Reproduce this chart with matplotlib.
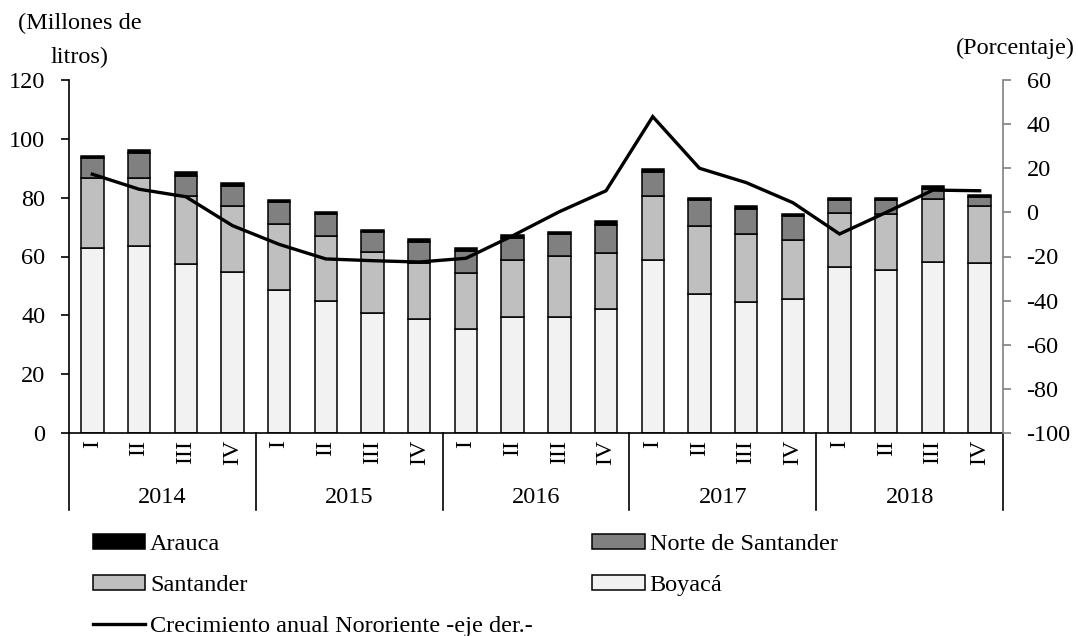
import numpy as np
import matplotlib.pyplot as plt
from matplotlib.lines import Line2D

plt.rcParams['font.family'] = ['Liberation Serif', 'DejaVu Serif']
plt.rcParams['font.size'] = 17.5
plt.rcParams['axes.unicode_minus'] = False

# Datos (millones de litros) por trimestre 2014-2018
years = ['2014', '2015', '2016', '2017', '2018']
quarters = ['I', 'II', 'III', 'IV'] * 5
boyaca = [63.0, 63.6, 57.4, 54.8, 48.7, 44.8, 40.7, 38.6, 35.3, 39.3,
          39.3, 42.1, 58.8, 47.3, 44.5, 45.4, 56.3, 55.5, 58.2, 57.7]
santander = [23.8, 23.2, 23.3, 22.5, 22.4, 22.2, 20.9, 19.1, 19.0, 19.5,
             21.0, 19.0, 21.8, 23.2, 23.3, 20.3, 18.5, 19.0, 21.2, 19.6]
norte = [6.6, 8.5, 6.7, 6.7, 7.3, 7.4, 6.7, 7.1, 7.7, 7.4,
         7.2, 9.7, 8.0, 8.6, 8.5, 8.0, 4.3, 4.6, 3.5, 3.0]
arauca = [0.9, 0.9, 1.4, 0.9, 0.9, 0.8, 0.8, 1.0, 1.0, 1.1,
          0.9, 1.1, 1.0, 0.9, 1.0, 0.9, 0.9, 0.9, 1.2, 0.7]
crecimiento = [17.3, 10.5, 7.1, -6.0, -14.5, -21.1, -21.9, -22.5, -20.8, -10.6,
               0.3, 9.8, 43.4, 20.0, 13.5, 4.4, -9.8, 0.0, 10.1, 9.8]

x = np.arange(len(boyaca))
b = np.array(boyaca)
s = np.array(santander)
n = np.array(norte)
a = np.array(arauca)

fig = plt.figure(figsize=(10.78, 6.36), dpi=100)
ax = fig.add_axes([69 / 1078, 1 - 433 / 636, (1003 - 69) / 1078, (433 - 80) / 636])

w = 0.48
ec = 'black'
lw = 1.1
ax.bar(x, b, w, color='#f2f2f2', edgecolor=ec, linewidth=lw, label='Boyacá')
ax.bar(x, s, w, bottom=b, color='#bfbfbf', edgecolor=ec, linewidth=lw, label='Santander')
ax.bar(x, n, w, bottom=b + s, color='#808080', edgecolor=ec, linewidth=lw, label='Norte de Santander')
ax.bar(x, a, w, bottom=b + s + n, color='black', edgecolor=ec, linewidth=lw, label='Arauca')

ax.set_xlim(-0.5, len(x) - 0.5)
ax.set_ylim(0, 120)
ax.set_yticks(range(0, 121, 20))
ax.tick_params(axis='y', direction='out', length=6, width=1.2, pad=11)
ax.set_xticks(x)
ax.set_xticklabels(quarters, rotation=90)
ax.tick_params(axis='x', length=0, pad=5)
ax.spines['top'].set_visible(False)
ax.spines['right'].set_visible(False)
ax.spines['left'].set_linewidth(1.2)
ax.spines['bottom'].set_linewidth(1.2)

# separadores de años y etiquetas
for k in range(len(years) + 1):
    ax.plot([k * 4 - 0.5] * 2, [0, -0.218], color='black', lw=1.2,
            transform=ax.get_xaxis_transform(), clip_on=False)
for k, yr in enumerate(years):
    ax.text(k * 4 + 1.5, -0.183, yr, transform=ax.get_xaxis_transform(),
            ha='center', va='center')

ax2 = ax.twinx()
ax2.plot(x, crecimiento, color='black', lw=2.4, solid_joinstyle='miter')
ax2.set_ylim(-100, 60)
ax2.set_yticks(range(-100, 61, 20))
ax2.tick_params(axis='y', direction='out', length=6, width=1.2, pad=11, color='#808080')
for sp in ['top', 'left', 'bottom']:
    ax2.spines[sp].set_visible(False)
ax2.spines['right'].set_color('#808080')
ax2.spines['right'].set_linewidth(1.2)

fig.text(80 / 1078, 1 - 23 / 636, '(Millones de', ha='center', va='center')
fig.text(80 / 1078, 1 - 57 / 636, 'litros)', ha='center', va='center')
fig.text(1075 / 1078, 1 - 48 / 636, '(Porcentaje)', ha='right', va='center')

h, l = ax.get_legend_handles_labels()
hd = dict(zip(l, h))
line_h = Line2D([], [], color='black', lw=2.4)
handles = [hd['Arauca'], hd['Santander'], line_h, hd['Norte de Santander'], hd['Boyacá']]
labels = ['Arauca', 'Santander', 'Crecimiento anual Nororiente -eje der.-',
          'Norte de Santander', 'Boyacá']
fig.legend(handles, labels, ncol=2, loc='upper left',
           bbox_to_anchor=(93 / 1078, 1 - 534 / 636), frameon=False,
           borderpad=0, borderaxespad=0, handlelength=2.15, handleheight=0.6,
           handletextpad=0.2, labelspacing=0.8, columnspacing=2.45)

plt.savefig('out.png', dpi=100)
